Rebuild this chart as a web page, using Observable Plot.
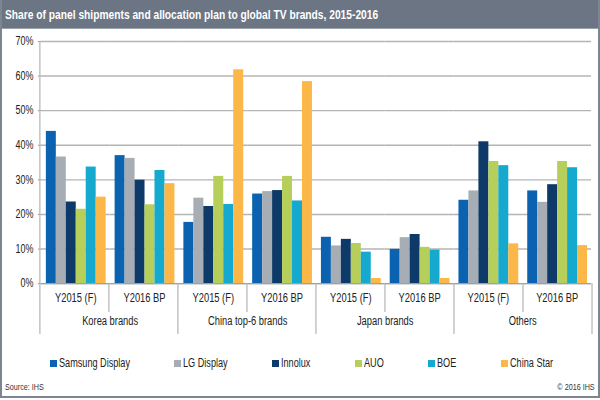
<!DOCTYPE html>
<html>
<head>
<meta charset="utf-8">
<script src="https://cdn.jsdelivr.net/npm/d3@7"></script>
<script src="https://cdn.jsdelivr.net/npm/@observablehq/plot@0.6"></script>
<style>
  html, body { margin: 0; padding: 0; background: #fff; }
  #frame { position: relative; width: 596px; height: 396px; border: 2px solid #7c8692; border-top: none; overflow: hidden;
    font-family: "Liberation Sans", Arial, sans-serif; }
  #title { position: absolute; left: 0; top: 0; width: 596px; height: 29px; background: #6b7583; color: #fff;
    font-weight: bold; font-size: 12.8px; line-height: 29px; padding-left: 3px; box-sizing: border-box; border-bottom: 1px solid #9aa2ab; white-space: nowrap; }
  #title span { display: inline-block; transform: scaleX(0.8); transform-origin: left center; }
  #chart { position: absolute; left: -2px; top: 29px; }
  #legend { position: absolute; left: 48px; right: 45px; top: 356px; display: flex; justify-content: space-between; font-size: 12.5px; color: #222; }
  #legend .item { display: flex; align-items: center; white-space: nowrap; }
  #legend .sw { width: 7px; height: 7px; margin-right: 2px; flex: none; }
  #legend .txt { display: inline-block; transform: scaleX(0.73); transform-origin: left center; }
  .small { position: absolute; top: 382px; font-size: 9px; color: #333; transform: scaleX(0.8); }
  #src { left: 3px; transform-origin: left center; }
  #copy { right: 3px; transform-origin: right center; }
</style>
</head>
<body>
<div id="frame">
  <div id="title"><span>Share of panel shipments and allocation plan to global TV brands, 2015-2016</span></div>
  <div id="chart"></div>
  <div id="legend"></div>
  <div id="src" class="small">Source: IHS</div>
  <div id="copy" class="small">© 2016 IHS</div>
</div>
<script>
const brandGroups = ["Korea brands", "China top-6 brands", "Japan brands", "Others"];
const periods = ["Y2015 (F)", "Y2016 BP"];
const companies = ["Samsung Display", "LG Display", "Innolux", "AUO", "BOE", "China Star"];
const colors = ["#0b62b0", "#a7adb4", "#0d3a69", "#b5cf5a", "#15a9cf", "#fbb848"];
const yTicks = [0, 10, 20, 30, 40, 50, 60, 70];

// values in %, per company, in order: Korea Y2015, Korea Y2016, China Y2015, China Y2016, Japan Y2015, Japan Y2016, Others Y2015, Others Y2016
const samsungDisplay = [44.0, 37.0, 17.7, 25.9, 13.4, 9.9, 24.1, 26.8];
const lgDisplay      = [36.6, 36.2, 24.7, 26.6, 10.9, 13.3, 26.8, 23.5];
const innolux        = [23.6, 29.9, 22.3, 26.9, 12.8, 14.2, 41.0, 28.6];
const auo            = [21.5, 22.8, 31.0, 31.0, 11.6, 10.5, 35.3, 35.3];
const boe            = [33.7, 32.7, 22.9, 23.9, 9.1, 9.7, 34.1, 33.5];
const chinaStar      = [25.0, 28.9, 61.8, 58.4, 1.5, 1.5, 11.5, 11.0];

const series = [samsungDisplay, lgDisplay, innolux, auo, boe, chinaStar];
const keys = [];
const keyInfo = [];
brandGroups.forEach(g => periods.forEach(p => { keys.push(g + "|" + p); keyInfo.push({key: g + "|" + p, group: g, period: p}); }));
const rows = [];
companies.forEach((c, ci) => keys.forEach((k, ki) => rows.push({key: k, company: c, value: series[ci][ki]})));
const groupLabels = brandGroups.map(g => ({key: g + "|" + periods[0], group: g}));

const H = 320, marginTop = 12, marginBottom = 65;
const plot = Plot.plot({
  width: 600,
  height: H,
  marginLeft: 40,
  marginRight: 6,
  marginTop,
  marginBottom,
  style: {fontFamily: '"Liberation Sans", Arial, sans-serif', fontSize: "12px", color: "#222", background: "transparent"},
  fx: {domain: keys, padding: 0, axis: null, label: null},
  x: {domain: companies, axis: null, paddingInner: 0, paddingOuter: 0.3},
  y: {domain: [0, 70], axis: null},
  color: {domain: companies, range: colors},
  marks: [
    Plot.gridY(yTicks, {stroke: "#b4b4b4", strokeOpacity: 1, strokeWidth: 1.4}),
    Plot.axisY(yTicks, {tickFormat: d => d + "%", tickSize: 3, tickPadding: 5, stroke: "#999", fontSize: 12, label: null}),
    Plot.barY(rows, {fx: "key", x: "company", y: "value", fill: "company"}),
    Plot.ruleY([0], {stroke: "#a0a0a0", strokeWidth: 1.4}),
    Plot.text(keyInfo, {fx: "key", text: "period", frameAnchor: "bottom", dy: 18, fontSize: 12.5, fill: "#222"}),
    Plot.text(groupLabels, {fx: "key", text: "group", frameAnchor: "bottom-right", textAnchor: "middle", dy: 42, fontSize: 12.5, fill: "#222"})
  ]
});

// separators below the axis, positioned with the plot's own fx and y scales
const fxS = plot.scale("fx");
const band = d3.scaleBand(fxS.domain, fxS.range).paddingInner(fxS.paddingInner || 0).paddingOuter(fxS.paddingOuter || 0);
const yS = plot.scale("y");
const y0 = yS.apply(0), yTop = yS.apply(70);
const svg = d3.select(plot);
const g = svg.append("g").attr("stroke", "#b4b4b4").attr("stroke-width", 1.2);
keys.forEach((k, i) => {
  const x = band(k);
  const major = i % 2 === 0;
  g.append("line").attr("x1", x).attr("x2", x).attr("y1", i === 0 ? yTop : y0).attr("y2", y0 + (major ? 51 : 29));
});
const xEnd = band(keys[keys.length - 1]) + band.bandwidth();
g.append("line").attr("x1", xEnd).attr("x2", xEnd).attr("y1", y0).attr("y2", y0 + 51);

document.getElementById("chart").append(plot);

// condense the SVG labels (narrow face look)
svg.selectAll("text").each(function() {
  const w = this.getComputedTextLength();
  if (w > 0) { this.setAttribute("textLength", w * 0.75); this.setAttribute("lengthAdjust", "spacingAndGlyphs"); }
});

const legend = document.getElementById("legend");
companies.forEach((c, i) => {
  const item = document.createElement("div");
  item.className = "item";
  const sw = document.createElement("span");
  sw.className = "sw";
  sw.style.background = colors[i];
  const t = document.createElement("span");
  t.className = "txt";
  t.textContent = c;
  item.append(sw, t);
  legend.append(item);
});
legend.querySelectorAll(".item").forEach(item => {
  const t = item.querySelector(".txt");
  const w = t.offsetWidth;
  item.style.width = (9 + w * 0.73) + "px";
});
</script>
</body>
</html>
